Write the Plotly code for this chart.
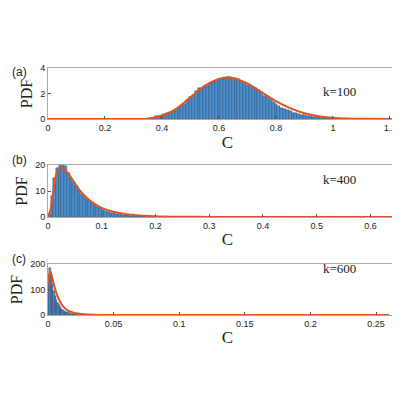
import plotly.graph_objects as go

# Panel (a) k=100
a_bins = [0.36+0.01*i for i in range(65)]
a_hist = [0.05,0.1,0.2,0.25,0.3,0.4,0.45,0.55,0.6,0.7,0.9,1.0,1.2,1.5,1.7,1.9,2.2,2.4,2.4,2.5,2.6,2.8,2.9,3.0,3.1,3.1,3.2,3.3,3.3,3.2,3.2,3.1,3.0,2.8,2.7,2.6,2.5,2.4,2.3,2.1,1.8,1.7,1.6,1.3,1.2,1.0,0.9,0.8,0.7,0.6,0.5,0.45,0.4,0.35,0.3,0.25,0.2,0.18,0.15,0.12,0.1,0.08,0.06,0.05,0.04]
a_fit_x = [0,0.3,0.35,0.4,0.45,0.5,0.55,0.6,0.63,0.65,0.7,0.75,0.8,0.85,0.9,0.95,1.0,1.05,1.1,1.24]
a_fit_y = [0,0,0.03,0.25,0.8,1.7,2.6,3.15,3.25,3.2,2.8,2.1,1.4,0.85,0.45,0.22,0.1,0.04,0.015,0]

# Panel (b) k=400
b_bins = [0.0025+0.005*i for i in range(41)]
b_hist = [1,8,15,19,21,20.5,19.5,17,15,13.5,12,10.5,9,8,7,6,5.2,4.5,3.8,3.3,2.8,2.4,2,1.7,1.4,1.2,1.0,0.85,0.7,0.6,0.5,0.42,0.35,0.3,0.25,0.2,0.18,0.15,0.12,0.1,0.08]
b_fit_x = [0,0.005,0.01,0.015,0.02,0.025,0.03,0.04,0.05,0.06,0.07,0.08,0.09,0.1,0.12,0.14,0.16,0.2,0.25,0.3,0.4,0.64]
b_fit_y = [0,3,10,16,18.5,19,18.5,16,13,10,7.8,6,4.6,3.5,2.1,1.3,0.8,0.3,0.1,0.04,0.01,0]

# Panel (c) k=600
c_bins = [0.0005+0.001*i for i in range(30)]
c_hist = [150,185,160,120,95,75,60,48,38,30,24,19,15,12,10,8,6,5,4,3,2.5,2,1.6,1.3,1,0.8,0.6,0.5,0.4,0.3]
c_fit_x = [0,0.001,0.002,0.003,0.005,0.0075,0.01,0.0125,0.015,0.02,0.025,0.03,0.04,0.26]
c_fit_y = [120,160,170,150,110,70,45,28,18,8,3.5,1.5,0.4,0]

panels = [
    (a_bins, a_hist, 0.01, a_fit_x, a_fit_y, [0,1.26], [0,4], 0.2, 2, "k=100", "(a)", (66,117)),
    (b_bins, b_hist, 0.005, b_fit_x, b_fit_y, [0,0.668], [0,20], 0.1, 10, "k=400", "(b)", (163,215)),
    (c_bins, c_hist, 0.001, c_fit_x, c_fit_y, [0,0.2736], [0,200], 0.05, 100, "k=600", "(c)", (262,313)),
]

XOFF = 0
YOFF = 6
W = 400
def px(v): return (v - XOFF) / W
def py(v): return 1 - (v - YOFF) / W

fig = go.Figure()
tickfont = dict(family="Liberation Sans, Arial", size=9, color="#222")
for i, (bx, bh, w, fx, fy, xr, yr, xd, yd, ktxt, lab, (top, bot)) in enumerate(panels):
    n = "" if i == 0 else str(i+1)
    fig.add_trace(go.Bar(x=bx, y=bh, width=w, marker=dict(color="#4a8fd0", line=dict(color="#1f3550", width=0.4)),
                         xaxis="x"+n, yaxis="y"+n, showlegend=False))
    fig.add_trace(go.Scatter(x=fx, y=fy, mode="lines", line=dict(color="#e0521f", width=2, shape="spline", smoothing=0.6),
                             xaxis="x"+n, yaxis="y"+n, showlegend=False))
    common = dict(showgrid=False, zeroline=False, automargin=False,
                  showline=True, linecolor="#aaa", mirror=True, ticks="inside", ticklen=3, tickcolor="#555",
                  tickfont=tickfont)
    fig.layout["xaxis"+n] = dict(range=xr, dtick=xd, domain=[px(40), px(399)], anchor="y"+n,
                                 title=dict(text="C", font=dict(family="Liberation Serif", size=17, color="#222"), standoff=3),
                                 **common)
    fig.layout["yaxis"+n] = dict(range=yr, dtick=yd, domain=[py(bot), py(top)], anchor="x"+n,
                                 title=dict(text="PDF", font=dict(family="Liberation Serif", size=16, color="#222"), standoff=3),
                                 **common)
    fig.add_annotation(x=px(350), y=py(top+14), xref="paper", yref="paper", text=ktxt, showarrow=False,
                       font=dict(family="Liberation Serif", size=13, color="#222"))
    fig.add_annotation(x=px(2), y=py(top-5), xref="paper", yref="paper", text=lab, showarrow=False,
                       xanchor="left", font=dict(family="Liberation Sans, Arial", size=12, color="#222"))

fig.update_layout(width=W, height=W, margin=dict(l=0, r=0, t=0, b=0), bargap=0,
                  plot_bgcolor="white", paper_bgcolor="white")
fig.write_html("out.html")
